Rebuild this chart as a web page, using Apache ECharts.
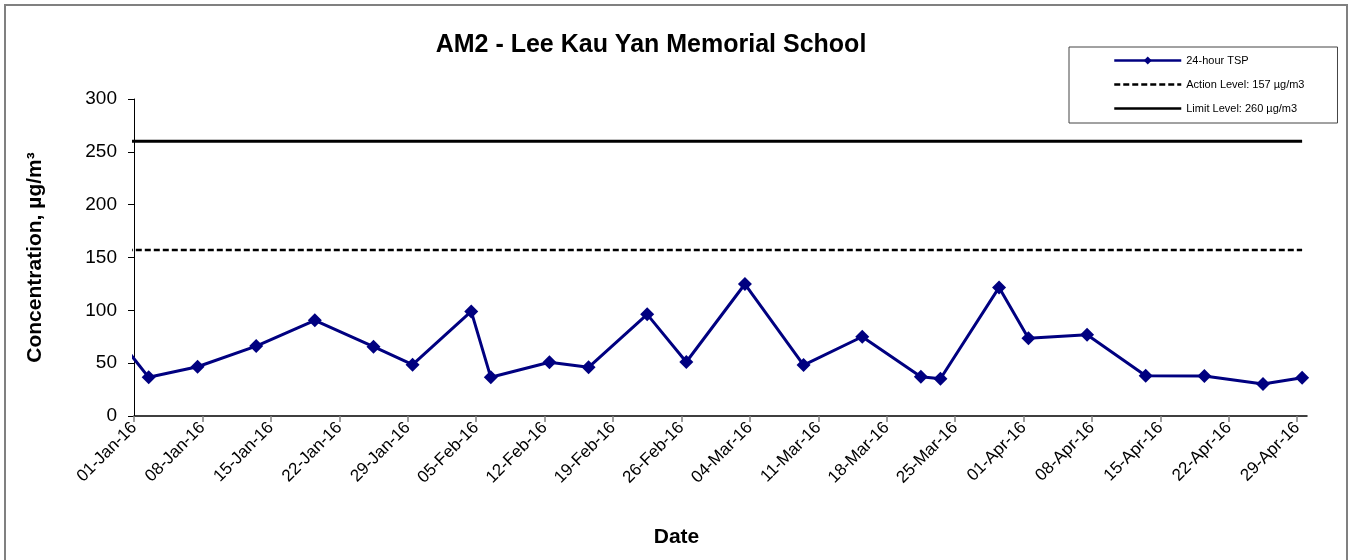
<!DOCTYPE html>
<html>
<head>
<meta charset="utf-8">
<title>AM2 - Lee Kau Yan Memorial School</title>
<script src="https://cdn.jsdelivr.net/npm/echarts@6/dist/echarts.min.js"></script>
<style>
  html, body { margin: 0; padding: 0; background: #fff; }
  #chart { width: 1350px; height: 560px; }
</style>
</head>
<body>
<div id="chart"></div>
<script>
// ------------------------------------------------------------
// data (24-hour TSP, µg/m3)
// ------------------------------------------------------------
const sampleDates = [
  "2015-12-28", "2016-01-02", "2016-01-07", "2016-01-13", "2016-01-19",
  "2016-01-25", "2016-01-29", "2016-02-04", "2016-02-06", "2016-02-12",
  "2016-02-16", "2016-02-22", "2016-02-26", "2016-03-03", "2016-03-09",
  "2016-03-15", "2016-03-21", "2016-03-23", "2016-03-29", "2016-04-01",
  "2016-04-07", "2016-04-13", "2016-04-19", "2016-04-25", "2016-04-29",
];
const tspValues = [
  95, 36.6, 46.6, 66.2, 90.5,
  65.6, 48.6, 99, 36.6, 50.8,
  46.1, 96.2, 51.1, 124.9, 48.2,
  75, 37.2, 35.2, 121.7, 73.5,
  76.9, 38.1, 37.8, 30.3, 36.2,
];
const actionLevel = 157;
const limitLevel = 260;

const xTickLabels = [
  "01-Jan-16", "08-Jan-16", "15-Jan-16", "22-Jan-16", "29-Jan-16",
  "05-Feb-16", "12-Feb-16", "19-Feb-16", "26-Feb-16", "04-Mar-16",
  "11-Mar-16", "18-Mar-16", "25-Mar-16", "01-Apr-16", "08-Apr-16",
  "15-Apr-16", "22-Apr-16", "29-Apr-16",
];
const axisStart = "2016-01-01";
const axisEnd = "2016-04-30";

// ------------------------------------------------------------
// helpers — x axis is "days since 01-Jan-16"
// ------------------------------------------------------------
const MONTHS = ["Jan", "Feb", "Mar", "Apr", "May", "Jun", "Jul", "Aug", "Sep", "Oct", "Nov", "Dec"];
const DAY_MS = 86400000;
const T0 = Date.UTC(2016, 0, 1);

function dayOfIso(iso) {
  const [y, m, d] = iso.split("-").map(Number);
  return (Date.UTC(y, m - 1, d) - T0) / DAY_MS;
}
function dayOfLabel(lbl) {
  const [d, mon, yy] = lbl.split("-");
  return (Date.UTC(2000 + Number(yy), MONTHS.indexOf(mon), Number(d)) - T0) / DAY_MS;
}
function labelOfDay(v) {
  const d = new Date(T0 + Math.round(v) * DAY_MS);
  return `${String(d.getUTCDate()).padStart(2, "0")}-${MONTHS[d.getUTCMonth()]}-${String(d.getUTCFullYear()).slice(2)}`;
}

// 24-hour samples are plotted at mid-day
const sampleX = sampleDates.map((s) => dayOfIso(s) + 0.5);
const tspData = sampleX.map((x, i) => [x, tspValues[i]]);
const firstX = sampleX[0];
const lastX = sampleX[sampleX.length - 1];
const tickDays = xTickLabels.map(dayOfLabel);

const FONT = "'Liberation Sans', Arial, Helvetica, sans-serif";
const NAVY = "#000080";
const HIDDEN = "rgba(0,0,0,0)";

const chart = echarts.init(document.getElementById("chart"));

chart.setOption({
  animation: false,
  backgroundColor: "#fff",
  textStyle: { fontFamily: FONT, color: "#000" },
  graphic: [
    {
      type: "rect",
      shape: { x: 5, y: 5, width: 1342, height: 600 },
      style: { fill: "none", stroke: "#808080", lineWidth: 2 },
      silent: true,
    },
  ],
  title: {
    text: "AM2 - Lee Kau Yan Memorial School",
    left: 651,
    top: 33,
    padding: 0,
    textAlign: "center",
    textStyle: { fontFamily: FONT, fontSize: 25, fontWeight: "bold", color: "#000" },
  },
  legend: {
    orient: "vertical",
    left: 1069,
    top: 47,
    padding: [8, 33, 9, 44],
    itemGap: 13,
    itemWidth: 67,
    itemHeight: 10,
    backgroundColor: "#fff",
    borderColor: "#444",
    borderWidth: 1,
    borderRadius: 0,
    textStyle: { fontFamily: FONT, fontSize: 11, color: "#000" },
    data: [
      { name: "24-hour TSP", lineStyle: { width: 2.5 } },
      { name: "Action Level: 157 µg/m3", itemStyle: { color: HIDDEN, borderWidth: 0 }, lineStyle: { width: 2.5 } },
      { name: "Limit Level: 260 µg/m3", itemStyle: { color: HIDDEN, borderWidth: 0 }, lineStyle: { width: 2.5 } },
    ],
  },
  grid: { left: 134, right: 43, top: 99, bottom: 144 },
  xAxis: {
    type: "value",
    min: dayOfIso(axisStart),
    max: dayOfIso(axisEnd),
    name: "Date",
    nameLocation: "middle",
    nameGap: 111,
    nameTextStyle: {
      fontFamily: FONT, fontSize: 21, fontWeight: "bold", color: "#000",
      padding: [0, 88, 0, 0],
    },
    axisLine: { show: true, onZero: false, lineStyle: { color: "#000", width: 1.5 } },
    axisTick: {
      show: true,
      customValues: tickDays,
      length: 6,
      lineStyle: { color: "#808080", width: 1.5 },
    },
    axisLabel: {
      customValues: tickDays,
      rotate: 45,
      margin: 9,
      fontFamily: FONT,
      fontSize: 17,
      color: "#000",
      formatter: (v) => labelOfDay(v),
    },
    splitLine: { show: false },
  },
  yAxis: {
    type: "value",
    min: 0,
    max: 300,
    interval: 50,
    name: "Concentration, µg/m³",
    nameLocation: "middle",
    nameGap: 88,
    nameTextStyle: { fontFamily: FONT, fontSize: 21, fontWeight: "bold", color: "#000" },
    axisLine: { show: true, lineStyle: { color: "#000", width: 1 } },
    axisTick: { show: true, length: 6, lineStyle: { color: "#000", width: 1 } },
    axisLabel: { margin: 17, fontFamily: FONT, fontSize: 19, color: "#000" },
    splitLine: { show: false },
  },
  series: [
    {
      name: "Action Level: 157 µg/m3",
      type: "line",
      symbol: "none",
      clip: true,
      lineStyle: { color: "#000", width: 2.5, type: [6, 3] },
      itemStyle: { color: "#000" },
      data: [[firstX, actionLevel], [lastX, actionLevel]],
      z: 2,
    },
    {
      name: "Limit Level: 260 µg/m3",
      type: "line",
      symbol: "none",
      clip: true,
      lineStyle: { color: "#000", width: 3 },
      itemStyle: { color: "#000" },
      data: [[firstX, limitLevel], [lastX, limitLevel]],
      z: 2,
    },
    {
      name: "24-hour TSP",
      type: "line",
      symbol: "diamond",
      symbolSize: 14,
      clip: true,
      lineStyle: { color: NAVY, width: 3 },
      itemStyle: { color: NAVY },
      data: tspData,
      z: 3,
    },
  ],
});
</script>
</body>
</html>
